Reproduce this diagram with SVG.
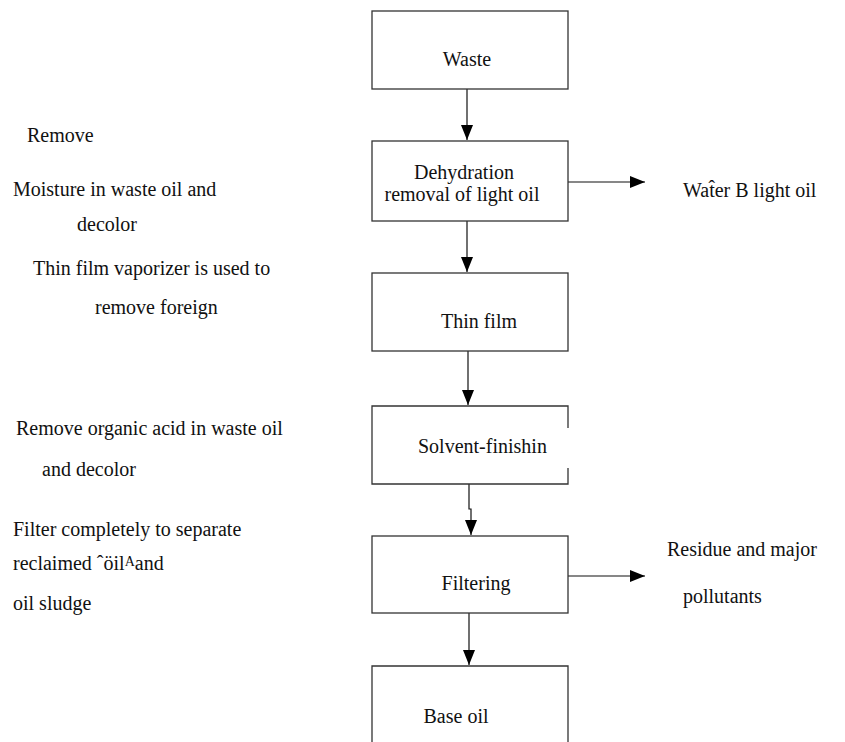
<svg xmlns="http://www.w3.org/2000/svg" width="845" height="742" viewBox="0 0 845 742">
<style>
text{font-family:"Liberation Serif","Times New Roman","DejaVu Serif",serif;font-size:20px;fill:#111}
.box{fill:#fff;stroke:#333;stroke-width:1.3}
.c{text-anchor:middle}
.ln{fill:none;stroke:#111;stroke-width:1.2}
</style>
<defs>
<marker id="ah" markerUnits="userSpaceOnUse" markerWidth="16" markerHeight="14" refX="15" refY="6" orient="auto">
<polygon points="0,0 15,6 0,12" fill="#000"/>
</marker>
</defs>
<rect width="845" height="742" fill="#fff"/>
<g id="connectors">
<path class="ln" d="M467 89 V140" marker-end="url(#ah)"/>
<path class="ln" d="M467 221 V272" marker-end="url(#ah)"/>
<path class="ln" d="M468 351 V405" marker-end="url(#ah)"/>
<path class="ln" d="M469 484 V509 H471 V535" marker-end="url(#ah)"/>
<path class="ln" d="M469 613 V665" marker-end="url(#ah)"/>
<path class="ln" d="M568 182 H645" marker-end="url(#ah)"/>
<path class="ln" d="M568 576 H645" marker-end="url(#ah)"/>
</g>
<g id="waste">
<rect class="box" x="372" y="11" width="196" height="78"/>
<text class="c" x="467" y="66">Waste</text>
</g>
<g id="dehydration">
<rect class="box" x="372" y="141" width="196" height="80"/>
<text class="c" x="464" y="179">Dehydration</text>
<text class="c" x="462" y="201">removal of light oil</text>
</g>
<g id="thinfilm">
<rect class="box" x="372" y="273" width="196" height="78"/>
<text class="c" x="479" y="328">Thin film</text>
</g>
<g id="solvent">
<path class="box" d="M568 428 V406 H372 V484 H568 V468"/>
<text x="418" y="453">Solvent-finishin</text>
</g>
<g id="filtering">
<rect class="box" x="372" y="536" width="196" height="77"/>
<text class="c" x="476" y="590">Filtering</text>
</g>
<g id="baseoil">
<path class="box" d="M372 745 V666 H568 V745"/>
<text class="c" x="456" y="723">Base oil</text>
</g>
<g id="notes-left">
<text x="27" y="142">Remove</text>
<text x="13" y="196">Moisture in waste oil and</text>
<text x="77" y="231">decolor</text>
<text x="33" y="275">Thin film vaporizer is used to</text>
<text x="95" y="314">remove foreign</text>
<text x="16" y="435">Remove organic acid in waste oil</text>
<text x="42" y="476">and decolor</text>
<text x="13" y="536">Filter completely to separate</text>
<text x="13" y="570">reclaimed ˆöil<tspan font-size="14" dy="-4">A</tspan><tspan dy="4">and</tspan></text>
<text x="13" y="610">oil sludge</text>
</g>
<g id="notes-right">
<text x="683" y="197">Wat̂er B light oil</text>
<text x="667" y="556">Residue and major</text>
<text x="683" y="603">pollutants</text>
</g>
</svg>
